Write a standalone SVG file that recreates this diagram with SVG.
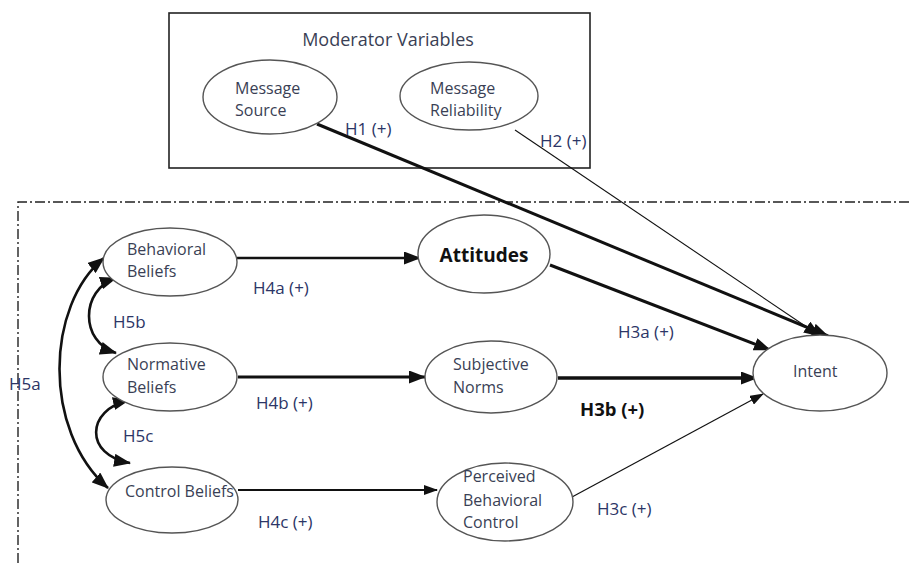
<svg xmlns="http://www.w3.org/2000/svg" width="909" height="565" viewBox="0 0 909 565">
  <style>
    .node ellipse { fill: #ffffff; stroke: #555555; stroke-width: 1.4; }
    .txt { font-family: "Open Sans", Lato, sans-serif; font-size: 16px; fill: #3a3f55; }
    .title { font-family: "Open Sans", Lato, sans-serif; font-size: 18px; fill: #3a3f55; }
    .lbl { font-family: "Open Sans", Lato, sans-serif; font-size: 17px; fill: #2c3566; }
    .bold { font-family: "Open Sans", Lato, sans-serif; font-weight: bold; fill: #111111; }
    .edge { fill: none; stroke: #111111; }
  </style>
  <defs>
    <marker id="arrow" viewBox="0 0 17 13" refX="16" refY="6.5" markerWidth="17" markerHeight="13" markerUnits="userSpaceOnUse" orient="auto-start-reverse">
      <path d="M0,0 L17,6.5 L0,13 Z" fill="#111111"/>
    </marker>
    <marker id="arrowSmall" viewBox="0 0 14 10" refX="13" refY="5" markerWidth="14" markerHeight="10" markerUnits="userSpaceOnUse" orient="auto">
      <path d="M0,0 L14,5 L0,10 Z" fill="#111111"/>
    </marker>
  </defs>

  <rect width="909" height="565" fill="#ffffff"/>

  <!-- moderator frame -->
  <g id="moderator-frame">
    <rect x="169" y="13" width="421" height="155" fill="none" stroke="#222222" stroke-width="1.6"/>
    <text class="title" x="388" y="46" text-anchor="middle">Moderator Variables</text>
  </g>

  <!-- dash-dot frame of the belief model -->
  <g id="model-frame" fill="none" stroke="#222222" stroke-width="1.4" stroke-dasharray="10 3 2 3">
    <path d="M909,202 L18,202 L18,565"/>
  </g>

  <!-- connectors -->
  <g id="connectors">
    <path class="edge" d="M317,124 L828,336" stroke-width="3" marker-end="url(#arrow)"/>
    <path class="edge" d="M515,130 L820,336" stroke="#666666" stroke-width="1.1" marker-end="url(#arrow)"/>
    <path class="edge" d="M237,258 L420,258" stroke-width="2.6" marker-end="url(#arrow)"/>
    <path class="edge" d="M238,377 L425,377" stroke-width="3" marker-end="url(#arrow)"/>
    <path class="edge" d="M238,490 L437,490" stroke-width="2" marker-end="url(#arrowSmall)"/>
    <path class="edge" d="M550,265 L770,350" stroke-width="3" marker-end="url(#arrow)"/>
    <path class="edge" d="M558,378 L757,378" stroke-width="3.4" marker-end="url(#arrow)"/>
    <path class="edge" d="M572,497 L763,394" stroke="#666666" stroke-width="1.2" marker-end="url(#arrowSmall)"/>
    <!-- correlations between beliefs -->
    <path class="edge" d="M104,258 C46,305 42,430 108,488" stroke-width="2.6" marker-start="url(#arrow)" marker-end="url(#arrow)"/>
    <path class="edge" d="M116,278 C80,290 80,342 116,353" stroke-width="2.6" marker-start="url(#arrow)" marker-end="url(#arrow)"/>
    <path class="edge" d="M129,400 C86,410 84,455 130,463" stroke-width="2.6" marker-start="url(#arrow)" marker-end="url(#arrow)"/>
  </g>

  <!-- nodes -->
  <g id="message-source" class="node">
    <ellipse cx="270" cy="97" rx="67" ry="37"/>
    <text class="txt" x="235" y="94">Message</text>
    <text class="txt" x="235" y="116">Source</text>
  </g>
  <g id="message-reliability" class="node">
    <ellipse cx="469" cy="96" rx="69" ry="34"/>
    <text class="txt" x="430" y="94">Message</text>
    <text class="txt" x="430" y="116">Reliability</text>
  </g>
  <g id="behavioral-beliefs" class="node">
    <ellipse cx="170" cy="262" rx="67" ry="34"/>
    <text class="txt" x="127" y="255">Behavioral</text>
    <text class="txt" x="127" y="277">Beliefs</text>
  </g>
  <g id="normative-beliefs" class="node">
    <ellipse cx="170" cy="377" rx="67" ry="34"/>
    <text class="txt" x="127" y="370">Normative</text>
    <text class="txt" x="127" y="393">Beliefs</text>
  </g>
  <g id="control-beliefs" class="node">
    <ellipse cx="172" cy="500" rx="66" ry="33"/>
    <text class="txt" x="125" y="497">Control Beliefs</text>
  </g>
  <g id="attitudes" class="node">
    <ellipse cx="484" cy="254" rx="66" ry="39"/>
    <text class="bold" x="484" y="262" font-size="19" text-anchor="middle">Attitudes</text>
  </g>
  <g id="subjective-norms" class="node">
    <ellipse cx="491" cy="377" rx="66" ry="36"/>
    <text class="txt" x="453" y="370">Subjective</text>
    <text class="txt" x="453" y="393">Norms</text>
  </g>
  <g id="perceived-behavioral-control" class="node">
    <ellipse cx="505" cy="502" rx="68" ry="39"/>
    <text class="txt" x="463" y="482">Perceived</text>
    <text class="txt" x="463" y="506">Behavioral</text>
    <text class="txt" x="463" y="528">Control</text>
  </g>
  <g id="intent" class="node">
    <ellipse cx="820" cy="373" rx="67" ry="38"/>
    <text class="txt" x="793" y="377">Intent</text>
  </g>

  <!-- hypothesis labels -->
  <g id="labels">
    <text class="lbl" x="345" y="135">H1 (+)</text>
    <text class="lbl" x="540" y="147">H2 (+)</text>
    <text class="lbl" x="253" y="294">H4a (+)</text>
    <text class="lbl" x="256" y="409">H4b (+)</text>
    <text class="lbl" x="258" y="528">H4c (+)</text>
    <text class="lbl" x="113" y="328">H5b</text>
    <text class="lbl" x="123" y="442">H5c</text>
    <text class="lbl" x="9" y="390">H5a</text>
    <text class="lbl" x="618" y="338">H3a (+)</text>
    <text class="bold" x="580" y="416" font-size="18.5">H3b (+)</text>
    <text class="lbl" x="597" y="515">H3c (+)</text>
  </g>
</svg>
